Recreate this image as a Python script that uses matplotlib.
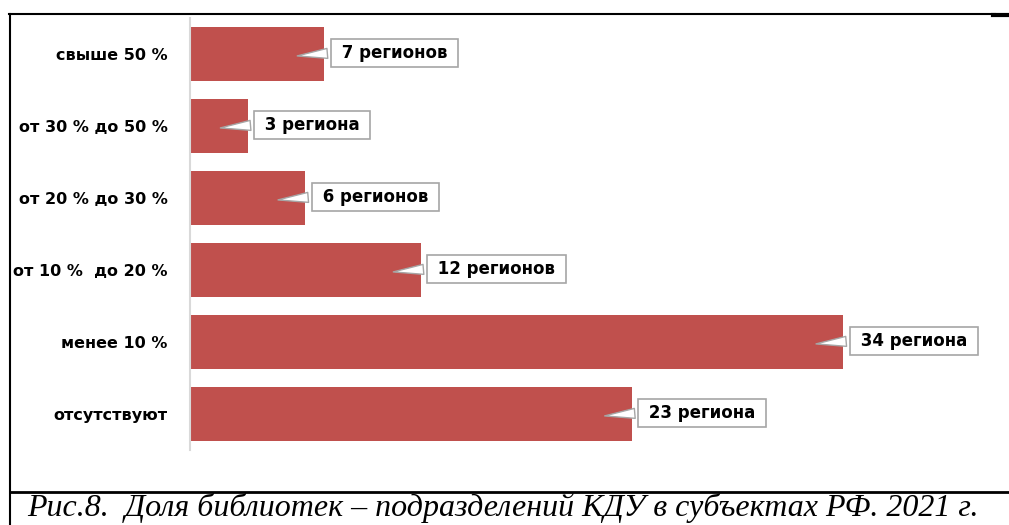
import matplotlib.pyplot as plt
from matplotlib.lines import Line2D

# ---------- Dane ----------
categories = ["свыше 50 %", "от 30 % до 50 %", "от 20 % до 30 %",
              "от 10 %  до 20 %", "менее 10 %", "отсутствуют"]
values = [7, 3, 6, 12, 34, 23]
labels = ["7 регионов", "3 региона", "6 регионов",
          "12 регионов", "34 региона", "23 региона"]
caption = "Рис.8.  Доля библиотек – подразделений КДУ в субъектах РФ. 2021 г."

BAR_COLOR = "#C0504D"

fig = plt.figure(figsize=(10.09, 5.25), dpi=100)
ax = fig.add_axes([0.1883, 0.1429, 0.8017, 0.8228])

y = list(range(len(categories)))
ax.barh(y, values, height=0.76, color=BAR_COLOR)
ax.set_xlim(0, 42.1)
ax.set_ylim(len(categories) - 0.5, -0.5)

ax.set_yticks(y)
ax.set_yticklabels(categories, fontfamily="DejaVu Sans", fontweight="bold", fontsize=11.5)
ax.tick_params(axis="y", length=0, pad=16)
ax.set_xticks([])
for side in ["top", "right", "bottom"]:
    ax.spines[side].set_visible(False)
ax.spines["left"].set_color("#d9d9d9")
ax.spines["left"].set_linewidth(1.5)

# ---------- Etykiety-dymki ----------
for i, (v, lab) in enumerate(zip(values, labels)):
    tip_x = v - 30 / 19.2
    ax.annotate(" " + lab + " ", xy=(tip_x, i + 0.03), xytext=(29.7, 2.5),
                textcoords="offset points", ha="left", va="center",
                fontfamily="DejaVu Sans", fontweight="bold", fontsize=12,
                bbox=dict(boxstyle="square,pad=0.3", fc="white", ec="#a6a6a6", lw=1.2),
                arrowprops=dict(arrowstyle="wedge,tail_width=0.6,shrink_factor=0.5",
                                fc="white", ec="#a6a6a6", lw=1.0,
                                relpos=(0, 0.5)))

# ---------- Ramka ----------
W, H = 1009, 525
def px_line(x0, y0, x1, y1, lw=2):
    fig.add_artist(Line2D([x0 / W, x1 / W], [1 - y0 / H, 1 - y1 / H],
                          color="black", lw=lw, transform=fig.transFigure))

px_line(9, 14, 995, 14, lw=1.5)
px_line(993, 15, 1009, 15, lw=3)
px_line(10, 14, 10, 525, lw=1.5)
px_line(10, 492, 1009, 492, lw=2)

fig.text(27 / W, 1 - 508 / H, caption, fontfamily="Liberation Serif",
         fontstyle="italic", fontsize=23, va="center", ha="left")

plt.savefig("out.png", dpi=100)
